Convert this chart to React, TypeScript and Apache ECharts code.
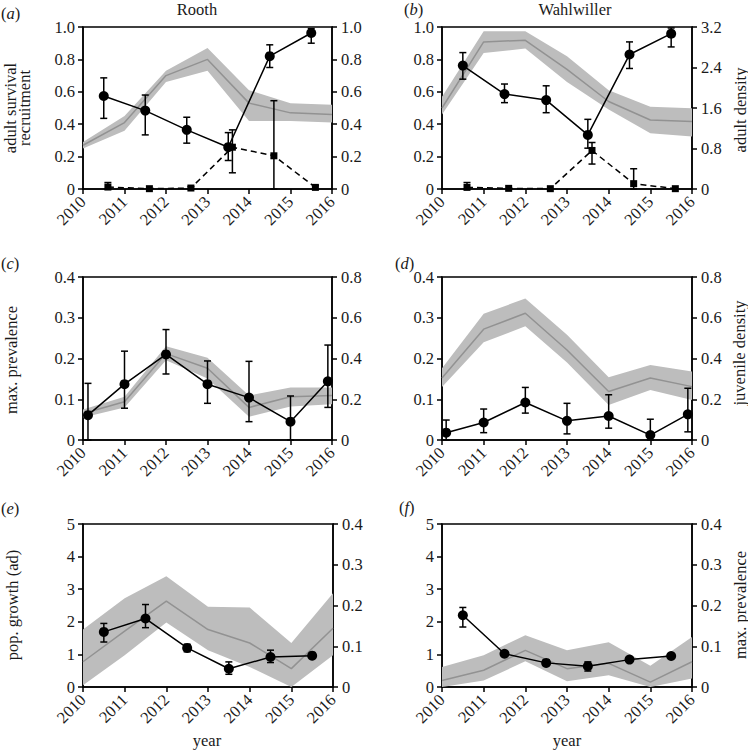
import React, { useEffect, useRef } from "react";
import * as echarts from "echarts";

// ---------- data ----------
const YEARS = [2010, 2011, 2012, 2013, 2014, 2015, 2016];
const HALF_X = [2010.5, 2011.5, 2012.5, 2013.5, 2014.5, 2015.5];
const SHIFT_X = [2010.6, 2011.6, 2012.6, 2013.6, 2014.6, 2015.6];
const EDGE_X_C = [2010.12, 2011, 2012, 2013, 2014, 2015, 2015.9];
const EDGE_X_D = [2010.1, 2011, 2012, 2013, 2014, 2015, 2015.9];

// (a) Rooth
const aSurv = [0.574, 0.484, 0.365, 0.258, 0.82, 0.963];
const aSurvLo = [0.436, 0.334, 0.283, 0.176, 0.75, 0.9];
const aSurvHi = [0.686, 0.58, 0.443, 0.348, 0.89, 0.99];
const aRecr = [0.012, 0.002, 0.006, 0.258, 0.205, 0.01];
const aRecrLo = [0, null, 0, 0.1, 0, 0];
const aRecrHi = [0.04, null, 0.015, 0.365, 0.545, 0.02];
const aDens = [0.27, 0.41, 0.7, 0.8, 0.53, 0.47, 0.46];
const aDensHi = [0.29, 0.45, 0.73, 0.87, 0.61, 0.53, 0.52];
const aDensLo = [0.25, 0.36, 0.66, 0.73, 0.42, 0.42, 0.41];

// (b) Wahlwiller
const bSurv = [0.762, 0.586, 0.549, 0.334, 0.83, 0.959];
const bSurvLo = [0.678, 0.533, 0.471, 0.252, 0.744, 0.877];
const bSurvHi = [0.842, 0.648, 0.637, 0.43, 0.908, 0.994];
const bRecr = [0.01, 0.004, 0.002, 0.238, 0.033, 0.002];
const bRecrLo = [0, null, null, 0.154, 0, null];
const bRecrHi = [0.04, null, null, 0.287, 0.125, null];
const bDens = [1.6, 2.906, 2.938, 2.362, 1.728, 1.363, 1.331];
const bDensHi = [1.824, 3.114, 3.114, 2.624, 1.952, 1.626, 1.594];
const bDensLo = [1.472, 2.688, 2.774, 2.112, 1.568, 1.101, 1.037];

// (c) Rooth prevalence / juvenile density
const cPrev = [0.061, 0.137, 0.21, 0.137, 0.104, 0.045, 0.144];
const cPrevLo = [0, 0.078, 0.162, 0.09, 0.045, 0, 0.08];
const cPrevHi = [0.139, 0.218, 0.271, 0.194, 0.193, 0.108, 0.233];
const cJuv = [0.13, 0.188, 0.424, 0.352, 0.16, 0.212, 0.218];
const cJuvHi = [0.15, 0.212, 0.46, 0.404, 0.218, 0.258, 0.258];
const cJuvLo = [0.11, 0.16, 0.392, 0.302, 0.114, 0.164, 0.176];

// (d) Wahlwiller prevalence / juvenile density
const dPrev = [0.018, 0.043, 0.092, 0.047, 0.059, 0.012, 0.063];
const dPrevLo = [0, 0.018, 0.066, 0.015, 0.029, 0, 0.02];
const dPrevHi = [0.049, 0.076, 0.129, 0.09, 0.111, 0.051, 0.127];
const dJuv = [0.304, 0.544, 0.622, 0.442, 0.238, 0.304, 0.262];
const dJuvHi = [0.352, 0.62, 0.694, 0.516, 0.308, 0.368, 0.336];
const dJuvLo = [0.26, 0.48, 0.558, 0.38, 0.172, 0.246, 0.196];

// (e) Rooth growth / prevalence
const eGrowth = [1.69, 2.1, 1.2, 0.56, 0.92, 0.96];
const eGrowthLo = [1.38, 1.82, 1.08, 0.39, 0.75, null];
const eGrowthHi = [1.95, 2.53, 1.31, 0.77, 1.13, null];
const ePrev = [0.062, 0.137, 0.211, 0.141, 0.108, 0.045, 0.144];
const ePrevHi = [0.141, 0.218, 0.272, 0.197, 0.195, 0.108, 0.23];
const ePrevLo = [0.004, 0.078, 0.158, 0.09, 0.049, 0, 0.078];

// (f) Wahlwiller growth / prevalence
const fGrowth = [2.2, 1.02, 0.74, 0.64, 0.84, 0.95];
const fGrowthLo = [1.84, null, 0.66, 0.49, null, null];
const fGrowthHi = [2.44, null, 0.83, 0.77, null, null];
const fPrev = [0.016, 0.041, 0.09, 0.045, 0.058, 0.012, 0.062];
const fPrevHi = [0.049, 0.078, 0.127, 0.09, 0.11, 0.052, 0.123];
const fPrevLo = [0, 0.016, 0.063, 0.014, 0.029, 0, 0.021];

// ---------- styling ----------
const FONT = "Liberation Serif";
const FS = 16.5;
const TXT = "#1a1a1a";
const BAND = "#bdbdbd";
const GREY = "#929292";

const GRIDS = [
  { left: 83, top: 27, width: 249, height: 162 },
  { left: 442, top: 27, width: 250, height: 162 },
  { left: 83, top: 277, width: 249, height: 163 },
  { left: 442, top: 277, width: 250, height: 163 },
  { left: 83, top: 524, width: 250, height: 163 },
  { left: 442, top: 524, width: 250, height: 163 },
];

const LEFT_AX = [
  [0, 1, 0.2],
  [0, 1, 0.2],
  [0, 0.4, 0.1],
  [0, 0.4, 0.1],
  [0, 5, 1],
  [0, 5, 1],
];
const RIGHT_AX = [
  [0, 1, 0.2],
  [0, 3.2, 0.8],
  [0, 0.8, 0.2],
  [0, 0.8, 0.2],
  [0, 0.4, 0.1],
  [0, 0.4, 0.1],
];

function fmt(v: number, step: number) {
  if (v === 0) return "0";
  if (step >= 1) return String(Math.round(v));
  return v.toFixed(1);
}

function band(g: number, lo: number[], hi: number[]) {
  return {
    type: "custom",
    xAxisIndex: g,
    yAxisIndex: g * 2 + 1,
    silent: true,
    z: 1,
    data: YEARS.map((y, i) => [y, lo[i], hi[i]]),
    encode: { x: 0, y: [1, 2] },
    renderItem: (params: any, api: any) => {
      if (params.dataIndex !== 0) return null;
      const pts: number[][] = [];
      for (let i = 0; i < YEARS.length; i++) pts.push(api.coord([YEARS[i], hi[i]]));
      for (let i = YEARS.length - 1; i >= 0; i--) pts.push(api.coord([YEARS[i], lo[i]]));
      return { type: "polygon", shape: { points: pts }, style: { fill: BAND, stroke: null } };
    },
  };
}

function greyLine(g: number, vals: number[]) {
  return {
    type: "line",
    xAxisIndex: g,
    yAxisIndex: g * 2 + 1,
    z: 2,
    symbol: "none",
    data: YEARS.map((y, i) => [y, vals[i]]),
    lineStyle: { color: GREY, width: 1.5 },
  };
}

function errBars(g: number, xs: number[], lo: (number | null)[], hi: (number | null)[], yi: number) {
  const data: number[][] = [];
  xs.forEach((x, i) => {
    if (lo[i] != null && hi[i] != null) data.push([x, lo[i] as number, hi[i] as number]);
  });
  return {
    type: "custom",
    xAxisIndex: g,
    yAxisIndex: yi,
    silent: true,
    z: 3,
    data,
    encode: { x: 0, y: [1, 2] },
    renderItem: (params: any, api: any) => {
      const x = api.value(0);
      const p1 = api.coord([x, api.value(1)]);
      const p2 = api.coord([x, api.value(2)]);
      const w = 3.5;
      const st = { stroke: "#000", lineWidth: 1.5 };
      return {
        type: "group",
        children: [
          { type: "line", shape: { x1: p1[0], y1: p1[1], x2: p2[0], y2: p2[1] }, style: st },
          { type: "line", shape: { x1: p1[0] - w, y1: p1[1], x2: p1[0] + w, y2: p1[1] }, style: st },
          { type: "line", shape: { x1: p2[0] - w, y1: p2[1], x2: p2[0] + w, y2: p2[1] }, style: st },
        ],
      };
    },
  };
}

function blackLine(g: number, xs: number[], vals: number[], dashed = false) {
  return {
    type: "line",
    xAxisIndex: g,
    yAxisIndex: g * 2,
    z: 4,
    symbol: dashed ? "rect" : "circle",
    symbolSize: dashed ? 7 : 10,
    data: xs.map((x, i) => [x, vals[i]]),
    itemStyle: { color: "#000" },
    lineStyle: { color: "#000", width: 1.5, type: dashed ? [6, 4] : "solid" },
  };
}

function label(letter: string, x: number, y: number) {
  return {
    type: "text",
    x,
    y,
    style: {
      text: "({i|" + letter + "})",
      font: `${FS}px "${FONT}"`,
      fill: TXT,
      verticalAlign: "middle",
      rich: { i: { fontStyle: "italic", fontFamily: FONT, fontSize: FS, fill: TXT } },
    },
  };
}

function vtext(t: string, x: number, y: number) {
  return {
    type: "text",
    x,
    y,
    rotation: Math.PI / 2,
    style: {
      text: t,
      font: `${FS}px "${FONT}"`,
      fill: TXT,
      align: "center",
      verticalAlign: "middle",
    },
  };
}

function htext(t: string, x: number, y: number) {
  return {
    type: "text",
    x,
    y,
    style: {
      text: t,
      font: `${FS}px "${FONT}"`,
      fill: TXT,
      align: "center",
      verticalAlign: "middle",
    },
  };
}

export default function App() {
  const ref = useRef<HTMLDivElement>(null);
  useEffect(() => {
    if (!ref.current) return;
    const chart = echarts.init(ref.current, null, { renderer: "svg" });

    const axisCommon = {
      axisLine: { show: true, onZero: false, lineStyle: { color: "#000", width: 1.5 } },
      axisTick: { show: true, inside: false, length: 5, lineStyle: { color: "#000", width: 1.5 } },
      splitLine: { show: false },
    };

    const xAxis = GRIDS.map((_, g) => ({
      type: "value",
      gridIndex: g,
      min: 2010,
      max: 2016,
      interval: 1,
      ...axisCommon,
      axisLabel: {
        rotate: 45,
        margin: 10,
        fontFamily: FONT,
        fontSize: FS,
        color: TXT,
        formatter: (v: number) => String(v),
      },
    }));

    const yAxis: any[] = [];
    GRIDS.forEach((_, g) => {
      const L = LEFT_AX[g];
      const R = RIGHT_AX[g];
      yAxis.push({
        type: "value",
        gridIndex: g,
        position: "left",
        min: L[0],
        max: L[1],
        interval: L[2],
        ...axisCommon,
        axisLabel: {
          margin: 8,
          fontFamily: FONT,
          fontSize: FS,
          color: TXT,
          formatter: (v: number) => fmt(v, L[2]),
        },
      });
      yAxis.push({
        type: "value",
        gridIndex: g,
        position: "right",
        min: R[0],
        max: R[1],
        interval: R[2],
        ...axisCommon,
        axisLabel: {
          margin: 9,
          fontFamily: FONT,
          fontSize: FS,
          color: TXT,
          formatter: (v: number) => fmt(v, R[2]),
        },
      });
    });

    const series: any[] = [
      // (a)
      band(0, aDensLo, aDensHi),
      greyLine(0, aDens),
      errBars(0, HALF_X, aSurvLo, aSurvHi, 0),
      errBars(0, SHIFT_X, aRecrLo, aRecrHi, 0),
      blackLine(0, SHIFT_X, aRecr, true),
      blackLine(0, HALF_X, aSurv),
      // (b)
      band(1, bDensLo, bDensHi),
      greyLine(1, bDens),
      errBars(1, HALF_X, bSurvLo, bSurvHi, 2),
      errBars(1, SHIFT_X, bRecrLo, bRecrHi, 2),
      blackLine(1, SHIFT_X, bRecr, true),
      blackLine(1, HALF_X, bSurv),
      // (c)
      band(2, cJuvLo, cJuvHi),
      greyLine(2, cJuv),
      errBars(2, EDGE_X_C, cPrevLo, cPrevHi, 4),
      blackLine(2, EDGE_X_C, cPrev),
      // (d)
      band(3, dJuvLo, dJuvHi),
      greyLine(3, dJuv),
      errBars(3, EDGE_X_D, dPrevLo, dPrevHi, 6),
      blackLine(3, EDGE_X_D, dPrev),
      // (e)
      band(4, ePrevLo, ePrevHi),
      greyLine(4, ePrev),
      errBars(4, HALF_X, eGrowthLo, eGrowthHi, 8),
      blackLine(4, HALF_X, eGrowth),
      // (f)
      band(5, fPrevLo, fPrevHi),
      greyLine(5, fPrev),
      errBars(5, HALF_X, fGrowthLo, fGrowthHi, 10),
      blackLine(5, HALF_X, fGrowth),
    ];

    const graphic: any[] = [
      label("a", 1, 13),
      label("b", 404, 9),
      label("c", 1, 263),
      label("d", 395, 263),
      label("e", 1, 508),
      label("f", 399, 507),
      htext("Rooth", 197, 9),
      htext("Wahlwiller", 575, 9),
      vtext("adult survival", 10, 108),
      vtext("recruitment", 24, 108),
      vtext("adult density", 740, 110),
      vtext("max. prevalence", 11, 360),
      vtext("juvenile density", 739, 353),
      vtext("pop. growth (ad)", 12, 605),
      vtext("max. prevalence", 740, 605),
      htext("year", 207, 740),
      htext("year", 567, 740),
    ];

    chart.setOption({
      animation: false,
      backgroundColor: "#fff",
      textStyle: { fontFamily: FONT },
      grid: GRIDS.map((g) => ({
        ...g,
        show: true,
        borderColor: "#000",
        borderWidth: 1.5,
        backgroundColor: "transparent",
        containLabel: false,
      })),
      xAxis,
      yAxis,
      series,
      graphic,
    });
    return () => chart.dispose();
  }, []);
  return (
    <div
      ref={ref}
      style={{ position: "fixed", left: 0, top: 0, width: 748, height: 752 }}
    />
  );
}
